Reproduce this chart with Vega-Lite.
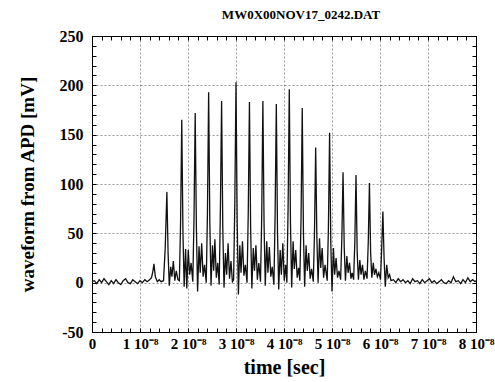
{
  "$schema": "https://vega.github.io/schema/vega-lite/v6.json",
  "width": 384,
  "height": 296,
  "autosize": {"type": "none"},
  "padding": {"left": 92, "top": 36, "right": 19, "bottom": 50},
  "background": "white",
  "config": {"view": {"stroke": "#000", "strokeWidth": 1}, "font": "Liberation Serif"},
  "title": {"text": "MW0X00NOV17_0242.DAT", "font": "Liberation Serif", "fontSize": 13, "fontWeight": "bold", "color": "#000", "offset": 6, "dx": 17},
  "data": {"values": [
    {"time_ns": 0, "mV": 1}, {"time_ns": 0.5, "mV": 2}, {"time_ns": 1, "mV": -1}, {"time_ns": 1.5, "mV": 3}, {"time_ns": 2, "mV": 0}, {"time_ns": 2.5, "mV": 4}, {"time_ns": 3, "mV": 1}, {"time_ns": 3.5, "mV": -2}, {"time_ns": 4, "mV": 2}, {"time_ns": 4.5, "mV": -1}, {"time_ns": 5, "mV": 3}, {"time_ns": 5.5, "mV": 0}, {"time_ns": 6, "mV": -2}, {"time_ns": 6.5, "mV": 2}, {"time_ns": 7, "mV": 4}, {"time_ns": 7.5, "mV": 0}, {"time_ns": 8, "mV": -1}, {"time_ns": 8.5, "mV": 3}, {"time_ns": 9, "mV": 1}, {"time_ns": 9.5, "mV": -1}, {"time_ns": 10, "mV": 2}, {"time_ns": 10.5, "mV": 0}, {"time_ns": 11, "mV": 3}, {"time_ns": 11.5, "mV": 1}, {"time_ns": 12, "mV": 3}, {"time_ns": 12.4, "mV": 5}, {"time_ns": 12.7, "mV": 12}, {"time_ns": 12.9, "mV": 19}, {"time_ns": 13.2, "mV": 6}, {"time_ns": 13.6, "mV": 1}, {"time_ns": 14.0, "mV": 3}, {"time_ns": 14.4, "mV": 1}, {"time_ns": 14.9, "mV": 2},
    {"time_ns": 15.25, "mV": 35}, {"time_ns": 15.6, "mV": 92}, {"time_ns": 15.85, "mV": 30}, {"time_ns": 16.1, "mV": -3}, {"time_ns": 16.4, "mV": 16}, {"time_ns": 16.65, "mV": 6}, {"time_ns": 16.95, "mV": 22}, {"time_ns": 17.25, "mV": 2}, {"time_ns": 17.55, "mV": 12}, {"time_ns": 17.9, "mV": 3}, {"time_ns": 18.2, "mV": 2}, {"time_ns": 18.45, "mV": 60}, {"time_ns": 18.7, "mV": 165},
    {"time_ns": 18.95, "mV": 50}, {"time_ns": 19.2, "mV": -4}, {"time_ns": 19.5, "mV": 34}, {"time_ns": 19.75, "mV": -6}, {"time_ns": 20.05, "mV": 33}, {"time_ns": 20.35, "mV": 8}, {"time_ns": 20.65, "mV": 20}, {"time_ns": 21.0, "mV": 1}, {"time_ns": 21.25, "mV": 65}, {"time_ns": 21.5, "mV": 172},
    {"time_ns": 21.75, "mV": 55}, {"time_ns": 22.0, "mV": -9}, {"time_ns": 22.3, "mV": 37}, {"time_ns": 22.55, "mV": 10}, {"time_ns": 22.85, "mV": 40}, {"time_ns": 23.15, "mV": 6}, {"time_ns": 23.45, "mV": 18}, {"time_ns": 23.8, "mV": 0}, {"time_ns": 24.05, "mV": 70}, {"time_ns": 24.3, "mV": 193},
    {"time_ns": 24.55, "mV": 60}, {"time_ns": 24.8, "mV": -3}, {"time_ns": 25.1, "mV": 38}, {"time_ns": 25.35, "mV": 12}, {"time_ns": 25.6, "mV": 44}, {"time_ns": 25.9, "mV": 5}, {"time_ns": 26.2, "mV": 20}, {"time_ns": 26.5, "mV": -2}, {"time_ns": 26.75, "mV": 75}, {"time_ns": 27.0, "mV": 184},
    {"time_ns": 27.25, "mV": 55}, {"time_ns": 27.5, "mV": -5}, {"time_ns": 27.8, "mV": 30}, {"time_ns": 28.05, "mV": 8}, {"time_ns": 28.35, "mV": 40}, {"time_ns": 28.65, "mV": 4}, {"time_ns": 28.95, "mV": 22}, {"time_ns": 29.25, "mV": 1}, {"time_ns": 29.5, "mV": 3}, {"time_ns": 29.75, "mV": 80}, {"time_ns": 30.0, "mV": 203},
    {"time_ns": 30.25, "mV": 60}, {"time_ns": 30.5, "mV": -12}, {"time_ns": 30.8, "mV": 38}, {"time_ns": 31.05, "mV": 10}, {"time_ns": 31.35, "mV": 42}, {"time_ns": 31.65, "mV": 7}, {"time_ns": 31.95, "mV": 18}, {"time_ns": 32.3, "mV": 0}, {"time_ns": 32.55, "mV": 70}, {"time_ns": 32.8, "mV": 183},
    {"time_ns": 33.05, "mV": 55}, {"time_ns": 33.3, "mV": -6}, {"time_ns": 33.6, "mV": 35}, {"time_ns": 33.85, "mV": 12}, {"time_ns": 34.15, "mV": 38}, {"time_ns": 34.45, "mV": 3}, {"time_ns": 34.75, "mV": 20}, {"time_ns": 35.1, "mV": 1}, {"time_ns": 35.35, "mV": 65}, {"time_ns": 35.6, "mV": 184},
    {"time_ns": 35.85, "mV": 58}, {"time_ns": 36.1, "mV": -3}, {"time_ns": 36.4, "mV": 42}, {"time_ns": 36.65, "mV": 10}, {"time_ns": 36.95, "mV": 36}, {"time_ns": 37.25, "mV": 6}, {"time_ns": 37.55, "mV": 16}, {"time_ns": 37.9, "mV": -2}, {"time_ns": 38.15, "mV": 70}, {"time_ns": 38.4, "mV": 181},
    {"time_ns": 38.65, "mV": 50}, {"time_ns": 38.9, "mV": -7}, {"time_ns": 39.2, "mV": 33}, {"time_ns": 39.45, "mV": 8}, {"time_ns": 39.75, "mV": 40}, {"time_ns": 40.05, "mV": 2}, {"time_ns": 40.35, "mV": 18}, {"time_ns": 40.6, "mV": 0}, {"time_ns": 40.85, "mV": 75}, {"time_ns": 41.1, "mV": 196},
    {"time_ns": 41.35, "mV": 60}, {"time_ns": 41.6, "mV": -5}, {"time_ns": 41.9, "mV": 42}, {"time_ns": 42.15, "mV": 14}, {"time_ns": 42.45, "mV": 33}, {"time_ns": 42.75, "mV": 5}, {"time_ns": 43.05, "mV": 15}, {"time_ns": 43.3, "mV": 2}, {"time_ns": 43.55, "mV": 65}, {"time_ns": 43.8, "mV": 177},
    {"time_ns": 44.05, "mV": 50}, {"time_ns": 44.3, "mV": -4}, {"time_ns": 44.6, "mV": 38}, {"time_ns": 44.85, "mV": 12}, {"time_ns": 45.15, "mV": 30}, {"time_ns": 45.45, "mV": 4}, {"time_ns": 45.75, "mV": 14}, {"time_ns": 46.1, "mV": 1}, {"time_ns": 46.35, "mV": 50}, {"time_ns": 46.6, "mV": 137},
    {"time_ns": 46.85, "mV": 45}, {"time_ns": 47.1, "mV": 0}, {"time_ns": 47.4, "mV": 45}, {"time_ns": 47.65, "mV": 15}, {"time_ns": 47.95, "mV": 35}, {"time_ns": 48.25, "mV": 5}, {"time_ns": 48.55, "mV": 18}, {"time_ns": 49.0, "mV": 2}, {"time_ns": 49.25, "mV": 55}, {"time_ns": 49.5, "mV": 152},
    {"time_ns": 49.75, "mV": 40}, {"time_ns": 50.0, "mV": -9}, {"time_ns": 50.3, "mV": 35}, {"time_ns": 50.55, "mV": 8}, {"time_ns": 50.85, "mV": 25}, {"time_ns": 51.15, "mV": 5}, {"time_ns": 51.45, "mV": 12}, {"time_ns": 51.8, "mV": 3}, {"time_ns": 52.05, "mV": 45}, {"time_ns": 52.3, "mV": 112},
    {"time_ns": 52.55, "mV": 35}, {"time_ns": 52.8, "mV": 2}, {"time_ns": 53.1, "mV": 27}, {"time_ns": 53.35, "mV": 10}, {"time_ns": 53.65, "mV": 20}, {"time_ns": 53.95, "mV": 4}, {"time_ns": 54.2, "mV": 10}, {"time_ns": 54.5, "mV": 3}, {"time_ns": 54.75, "mV": 40}, {"time_ns": 55.0, "mV": 109},
    {"time_ns": 55.25, "mV": 30}, {"time_ns": 55.5, "mV": 3}, {"time_ns": 55.8, "mV": 23}, {"time_ns": 56.05, "mV": 8}, {"time_ns": 56.35, "mV": 18}, {"time_ns": 56.65, "mV": 3}, {"time_ns": 56.95, "mV": 12}, {"time_ns": 57.3, "mV": 4}, {"time_ns": 57.55, "mV": 40}, {"time_ns": 57.8, "mV": 101},
    {"time_ns": 58.05, "mV": 30}, {"time_ns": 58.3, "mV": 5}, {"time_ns": 58.6, "mV": 20}, {"time_ns": 58.85, "mV": 8}, {"time_ns": 59.15, "mV": 14}, {"time_ns": 59.45, "mV": 6}, {"time_ns": 59.75, "mV": 10}, {"time_ns": 60.1, "mV": 3}, {"time_ns": 60.35, "mV": 35}, {"time_ns": 60.6, "mV": 72},
    {"time_ns": 60.85, "mV": 25}, {"time_ns": 61.1, "mV": -4}, {"time_ns": 61.4, "mV": 18}, {"time_ns": 61.7, "mV": 5}, {"time_ns": 62.0, "mV": 8}, {"time_ns": 62.3, "mV": 2},
    {"time_ns": 62.8, "mV": 3}, {"time_ns": 63.3, "mV": 0}, {"time_ns": 63.8, "mV": 4}, {"time_ns": 64.3, "mV": 1}, {"time_ns": 64.8, "mV": 3}, {"time_ns": 65.3, "mV": 0}, {"time_ns": 65.8, "mV": 2}, {"time_ns": 66.3, "mV": -1}, {"time_ns": 66.8, "mV": 4}, {"time_ns": 67.3, "mV": 1}, {"time_ns": 67.8, "mV": 2}, {"time_ns": 68.3, "mV": -1}, {"time_ns": 68.8, "mV": 3}, {"time_ns": 69.3, "mV": 0}, {"time_ns": 69.8, "mV": 2}, {"time_ns": 70.3, "mV": 4}, {"time_ns": 70.8, "mV": 0}, {"time_ns": 71.3, "mV": 2}, {"time_ns": 71.8, "mV": -1}, {"time_ns": 72.3, "mV": 1}, {"time_ns": 72.8, "mV": 3}, {"time_ns": 73.3, "mV": 0}, {"time_ns": 73.8, "mV": -1}, {"time_ns": 74.3, "mV": 2}, {"time_ns": 74.8, "mV": 0}, {"time_ns": 75.3, "mV": 6}, {"time_ns": 75.8, "mV": 1}, {"time_ns": 76.3, "mV": 2}, {"time_ns": 76.8, "mV": -1}, {"time_ns": 77.3, "mV": 3}, {"time_ns": 77.8, "mV": 0}, {"time_ns": 78.3, "mV": 5}, {"time_ns": 78.8, "mV": 1}, {"time_ns": 79.3, "mV": 3}, {"time_ns": 79.8, "mV": 1}, {"time_ns": 80, "mV": 2}
  ]},
  "layer": [
    {
      "mark": {"type": "line", "color": "#111", "strokeWidth": 1.3},
      "encoding": {
        "x": {"field": "time_ns", "type": "quantitative", "scale": {"domain": [0, 80], "nice": false},
          "axis": {"orient": "bottom",
            "values": [0,2,4,6,8,10,12,14,16,18,20,22,24,26,28,30,32,34,36,38,40,42,44,46,48,50,52,54,56,58,60,62,64,66,68,70,72,74,76,78,80],
            "labelExpr": "datum.value % 10 !== 0 ? '' : (datum.value === 0 ? '0' : (datum.value / 10) + ' 10⁻⁸')",
            "labelFont": "Liberation Serif", "labelFontWeight": "bold", "labelFontSize": 15, "labelColor": "#000",
            "labelFlush": false, "labelOverlap": false, "labelPadding": 8,
            "tickSize": -4, "tickColor": "#000", "domainColor": "#000",
            "grid": true, "gridColor": "#999", "gridDash": [2, 2],
            "gridOpacity": {"condition": {"test": "datum.value % 10 === 0 && datum.value > 0 && datum.value < 80", "value": 1}, "value": 0},
            "title": "time [sec]", "titleFont": "Liberation Serif", "titleFontSize": 20, "titleFontWeight": "bold", "titleColor": "#000", "titlePadding": 6}},
        "y": {"field": "mV", "type": "quantitative", "scale": {"domain": [-50, 250], "nice": false},
          "axis": {"orient": "left",
            "values": [-50,-40,-30,-20,-10,0,10,20,30,40,50,60,70,80,90,100,110,120,130,140,150,160,170,180,190,200,210,220,230,240,250],
            "labelExpr": "datum.value % 50 === 0 ? replace(datum.label, '−', '-') : ''",
            "labelFont": "Liberation Serif", "labelFontWeight": "bold", "labelFontSize": 16, "labelColor": "#000",
            "labelOverlap": false, "labelPadding": 13, "labelFlush": false,
            "tickSize": -4, "tickColor": "#000", "domainColor": "#000",
            "grid": true, "gridColor": "#999", "gridDash": [2, 2],
            "gridOpacity": {"condition": {"test": "datum.value % 50 === 0 && datum.value > -50 && datum.value < 250", "value": 1}, "value": 0},
            "title": "waveform from APD [mV]", "titleFont": "Liberation Serif", "titleFontSize": 19, "titleFontWeight": "bold", "titleColor": "#000", "titlePadding": 22}}
      }
    },
    {
      "mark": {"type": "line", "strokeOpacity": 0},
      "encoding": {
        "x": {"field": "time_ns", "type": "quantitative",
          "axis": {"orient": "top",
            "values": [0,2,4,6,8,10,12,14,16,18,20,22,24,26,28,30,32,34,36,38,40,42,44,46,48,50,52,54,56,58,60,62,64,66,68,70,72,74,76,78,80],
            "labels": false, "grid": false, "tickSize": -4, "tickColor": "#000", "domainColor": "#000", "title": null}},
        "y": {"field": "mV", "type": "quantitative",
          "axis": {"orient": "right",
            "values": [-50,-40,-30,-20,-10,0,10,20,30,40,50,60,70,80,90,100,110,120,130,140,150,160,170,180,190,200,210,220,230,240,250],
            "labels": false, "grid": false, "tickSize": -4, "tickColor": "#000", "domainColor": "#000", "title": null}}
      }
    }
  ]
}
